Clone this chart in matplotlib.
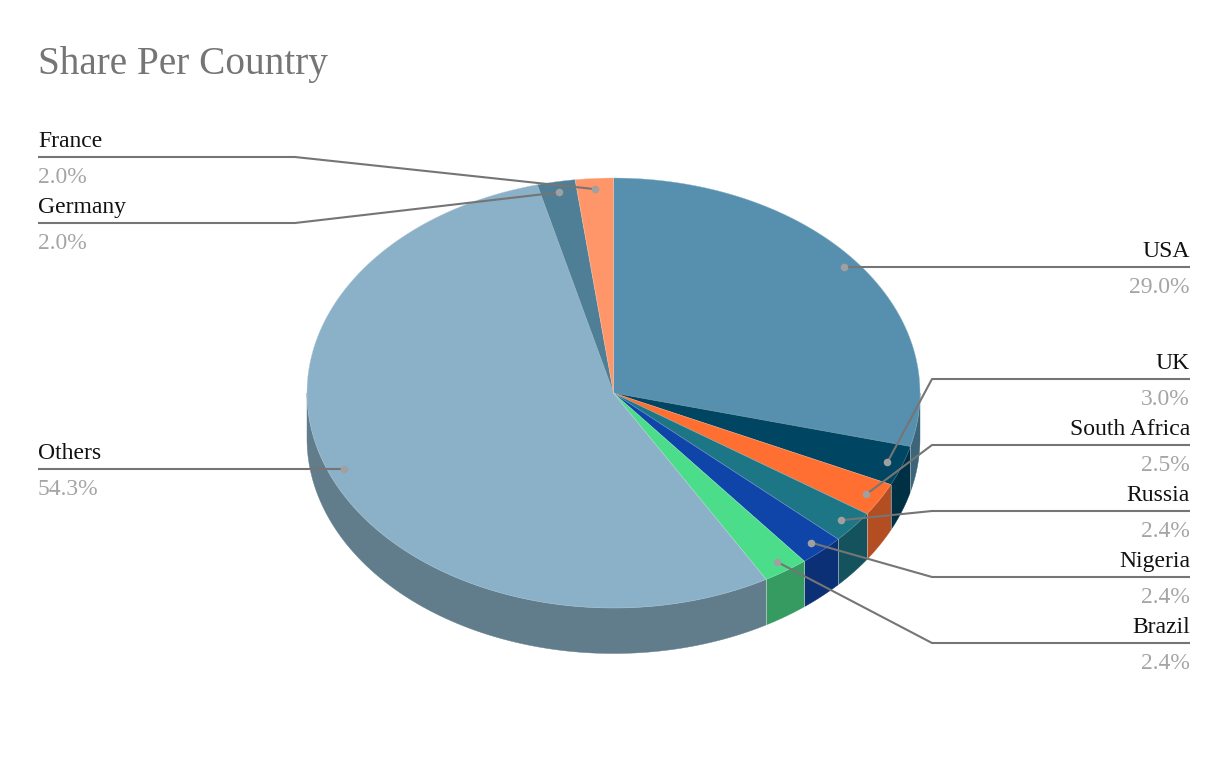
import numpy as np
import matplotlib
matplotlib.use("Agg")
import matplotlib.pyplot as plt
from matplotlib.colors import to_rgb

plt.rcParams['font.family'] = ['Liberation Serif', 'DejaVu Serif']

title = "Share Per Country"
categories = ["USA", "UK", "South Africa", "Russia", "Nigeria", "Brazil", "Others", "Germany", "France"]
shares = [29.0, 3.0, 2.5, 2.4, 2.4, 2.4, 54.3, 2.0, 2.0]

slice_colors = ["#5790AF", "#004561", "#FF6F31", "#1C7685", "#0F45A8", "#4CDD8A", "#8AB1C7", "#4E7F96", "#FF9669"]
label_line_y = [267, 379, 445, 511, 577, 643, 469, 223, 157]

CX, CY, RX, RY, DEPTH = 613.5, 393.0, 306.5, 215.0, 45.5
SHADE = 0.7
LINE = "#757575"
W, H = 1228, 760


def rim(a0, a1, n=None):
    n = n or max(2, int(abs(a1 - a0) * 1.5) + 2)
    t = np.radians(np.linspace(a0, a1, n))
    return CX + RX * np.sin(t), CY - RY * np.cos(t)


fig = plt.figure(figsize=(W / 100, H / 100), dpi=100, facecolor="white")
ax = fig.add_axes([0, 0, 1, 1])
ax.set_xlim(0, W)
ax.set_ylim(H, 0)
ax.axis("off")

edges = np.concatenate([[0], np.cumsum(shares)]) / sum(shares) * 360

# side wall
for a0, a1, col in zip(edges[:-1], edges[1:], slice_colors):
    lo, hi = max(a0, 90), min(a1, 270)
    if lo >= hi:
        continue
    x, y = rim(lo, hi)
    shade = tuple(c * SHADE for c in to_rgb(col))
    ax.fill(np.r_[x, x[::-1]], np.r_[y, y[::-1] + DEPTH], facecolor=shade,
            edgecolor=shade, linewidth=0.3, zorder=2)
    for ang in (lo, hi):
        if 90 < ang < 270:
            px, py = rim(ang, ang, 2)
            ax.plot([px[0], px[0]], [py[0], py[0] + DEPTH], color=(1, 1, 1, 0.3),
                    linewidth=0.6, zorder=2.5)

# top face
for a0, a1, col in zip(edges[:-1], edges[1:], slice_colors):
    x, y = rim(a0, a1)
    ax.fill(np.r_[CX, x], np.r_[CY, y], facecolor=col, edgecolor=col, linewidth=0.2, zorder=3)
    ax.plot(np.r_[x[0], CX, x[-1]], np.r_[y[0], CY, y[-1]], color=(1, 1, 1, 0.18),
            linewidth=0.5, zorder=3.5)
    ax.plot(x, y, color=(1, 1, 1, 0.2), linewidth=0.5, zorder=3.5)

# leader lines and labels
for name, val, a0, a1, ly in zip(categories, shares, edges[:-1], edges[1:], label_line_y):
    mid = np.radians((a0 + a1) / 2)
    px = CX + 0.95 * RX * np.sin(mid)
    py = CY - 0.95 * RY * np.cos(mid)
    right = np.sin(mid) > 0
    end_x, elbow_x = (1190, 932) if right else (38, 295)
    if abs(py - ly) < 2:
        py = ly
        xs, ys = [end_x, px], [ly, ly]
    else:
        xs, ys = [end_x, elbow_x, px], [ly, ly, py]
    ax.plot(xs, ys, color=LINE, linewidth=1.5, zorder=4, solid_joinstyle="round", solid_capstyle="butt")
    ax.scatter([px], [py], s=30, color="#A0A0A0", linewidths=0, zorder=5)
    ha = "right" if right else "left"
    ax.text(end_x, ly - 10, name, ha=ha, va="baseline", fontsize=17, color="#111111", zorder=6)
    ax.text(end_x, ly + 26, f"{val:.1f}%", ha=ha, va="baseline", fontsize=17, color="#A5A5A5", zorder=6)

ax.text(38, 74, title, ha="left", va="baseline", fontsize=28.3, color="#757575")

fig.savefig("out.png", dpi=100, facecolor="white")
